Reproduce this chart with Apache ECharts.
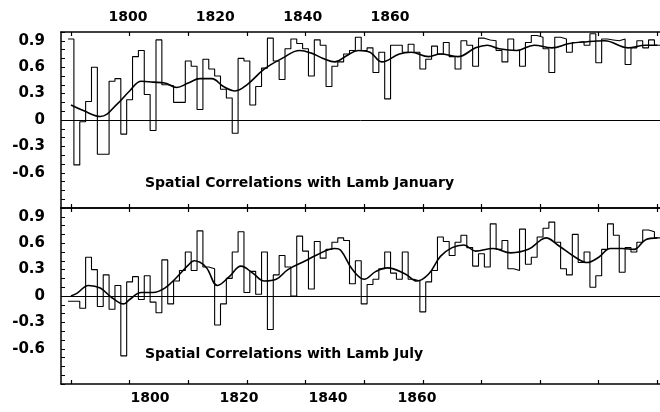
<!DOCTYPE html>
<html>
<head>
<meta charset="utf-8">
<script src="https://cdn.jsdelivr.net/npm/echarts@6/dist/echarts.min.js"></script>
<style>
html,body{margin:0;padding:0;background:#fff}
#chart{width:660px;height:412px}
</style>
</head>
<body>
<div id="chart"></div>
<script>
// yearly values start at this year, one per year
var firstYear = 1780;

var janValues = [0.92,-0.51,-0.02,0.21,0.60,-0.39,-0.39,0.44,0.47,-0.16,
  0.23,0.72,0.79,0.29,-0.12,0.91,0.40,0.39,0.20,0.20,
  0.67,0.61,0.12,0.69,0.58,0.50,0.35,0.25,-0.15,0.70,
  0.67,0.17,0.38,0.59,0.93,0.67,0.46,0.81,0.92,0.87,
  0.81,0.50,0.91,0.85,0.38,0.61,0.66,0.75,0.79,0.94,
  0.79,0.82,0.54,0.77,0.24,0.85,0.85,0.77,0.86,0.77,
  0.58,0.69,0.84,0.75,0.88,0.72,0.58,0.90,0.85,0.61,
  0.93,0.91,0.90,0.79,0.66,0.92,0.79,0.61,0.88,0.96,
  0.94,0.81,0.54,0.94,0.92,0.77,0.88,0.89,0.85,0.98,
  0.65,0.92,0.91,0.90,0.92,0.63,0.82,0.90,0.82,0.91,
  0.85];

var julValues = [-0.06,-0.06,-0.14,0.44,0.30,-0.12,0.24,-0.15,0.12,-0.68,
  0.16,0.22,-0.04,0.23,-0.07,-0.19,0.41,-0.09,0.17,0.29,
  0.50,0.29,0.74,0.33,0.31,-0.33,-0.09,0.20,0.50,0.73,
  0.04,0.28,0.02,0.50,-0.38,0.24,0.46,0.33,0.00,0.68,
  0.51,0.08,0.62,0.43,0.53,0.61,0.66,0.63,0.14,0.40,
  -0.09,0.13,0.19,0.31,0.50,0.26,0.19,0.50,0.19,0.17,
  -0.18,0.16,0.29,0.67,0.62,0.46,0.61,0.69,0.55,0.34,
  0.48,0.33,0.82,0.53,0.63,0.31,0.29,0.76,0.36,0.44,
  0.67,0.77,0.84,0.61,0.31,0.24,0.70,0.38,0.50,0.10,
  0.23,0.53,0.82,0.69,0.27,0.55,0.50,0.61,0.75,0.73,
  0.66];

// smoothed curves
var janSmoothYears = [1780,1782,1785,1788,1790,1792,1794,1796,1798,1800,1802,1804,1806,1808,1810,1813,1816,1819,1821,1823,1825,1827,1829,1831,1833,1836,1838,1841,1843,1846,1849,1851,1853,1856,1859,1862,1865,1868,1871,1875,1878,1880];
var janSmooth = [0.17,0.11,0.04,0.19,0.33,0.44,0.43,0.42,0.37,0.42,0.47,0.47,0.38,0.33,0.40,0.58,0.70,0.79,0.76,0.70,0.66,0.73,0.79,0.77,0.66,0.75,0.77,0.72,0.75,0.72,0.82,0.85,0.81,0.79,0.85,0.82,0.87,0.89,0.90,0.82,0.85,0.85];

var julSmoothYears = [1780,1781,1783,1785,1787,1789,1790,1792,1794,1796,1798,1800,1801,1803,1805,1807,1809,1811,1813,1815,1817,1820,1822,1825,1826,1828,1830,1832,1834,1837,1839,1841,1843,1845,1847,1849,1852,1855,1858,1860,1861,1863,1866,1868,1870,1872,1874,1876,1878,1880];
var julSmooth = [0.00,0.03,0.12,0.09,-0.02,-0.09,-0.04,0.04,0.04,0.09,0.21,0.35,0.40,0.33,0.12,0.22,0.34,0.26,0.17,0.19,0.30,0.40,0.47,0.54,0.52,0.30,0.19,0.28,0.32,0.25,0.17,0.25,0.45,0.55,0.58,0.51,0.54,0.49,0.53,0.63,0.66,0.58,0.44,0.38,0.44,0.54,0.54,0.53,0.64,0.66];

// axis ticks and labels
var decadeTicks = [1780,1790,1800,1810,1820,1830,1840,1850,1860,1870,1880];
var topLabels = [1800,1820,1840,1860];
var bottomLabels = [1800,1820,1840,1860];
var yLabels = [0.9,0.6,0.3,0,-0.3,-0.6];

var font = 'DejaVu Sans';
var xMin = 1778.3, xMax = 1880.45;

function steps(vals) {
  var pts = vals.map(function(v, i) { return [firstYear + i - 0.5, v]; });
  pts.push([firstYear + vals.length - 0.5, vals[vals.length - 1]]);
  return pts;
}
function pairs(xs, ys) {
  return xs.map(function(x, i) { return [x, ys[i]]; });
}

function dataAxis(grid, pos) {
  return {
    type: 'value', gridIndex: grid, position: pos, min: xMin, max: xMax,
    axisLine: {show: true, onZero: false, lineStyle: {color: '#000', width: 1.5}},
    axisTick: {show: true, inside: true, length: 4, customValues: decadeTicks, lineStyle: {color: '#000', width: 1.2}},
    axisLabel: {show: false},
    splitLine: {show: false}
  };
}
function labelAxis(grid, pos, min, max, labels, margin) {
  return {
    type: 'value', gridIndex: grid, position: pos, min: min, max: max,
    axisLine: {show: false, onZero: false}, axisTick: {show: false}, splitLine: {show: false},
    axisLabel: {show: true, customValues: labels, margin: margin, color: '#000',
      fontFamily: font, fontWeight: 'bold', fontSize: 14,
      formatter: function(v) { return String(v); }}
  };
}
function yAx(grid) {
  return {
    type: 'value', gridIndex: grid, min: -1, max: 1, interval: 0.1,
    axisLine: {show: true, onZero: false, lineStyle: {color: '#000', width: 1.5}},
    axisTick: {show: true, inside: true, length: 4, lineStyle: {color: '#000'}},
    axisLabel: {customValues: yLabels, margin: 16, color: '#000',
      fontFamily: font, fontWeight: 'bold', fontSize: 15,
      formatter: function(v) { return String(Math.round(v * 10) / 10); }},
    splitLine: {show: false}
  };
}
function zeroLine() {
  return {silent: true, symbol: 'none', label: {show: false},
    lineStyle: {color: '#000', width: 1, type: 'solid'}, data: [{yAxis: 0}]};
}

var chart = echarts.init(document.getElementById('chart'));
chart.setOption({
  animation: false,
  backgroundColor: '#fff',
  title: [
    {text: 'Spatial Correlations with Lamb January', left: 145, top: 176, padding: 0,
      textStyle: {fontFamily: font, fontWeight: 'bold', fontSize: 14, color: '#000'}},
    {text: 'Spatial Correlations with Lamb July', left: 145, top: 347, padding: 0,
      textStyle: {fontFamily: font, fontWeight: 'bold', fontSize: 14, color: '#000'}}
  ],
  grid: [
    {left: 61, top: 32, width: 599, height: 176},
    {left: 61, top: 208, width: 599, height: 176}
  ],
  xAxis: [
    dataAxis(0, 'top'),
    dataAxis(0, 'bottom'),
    labelAxis(0, 'top', 1784.66, 1921.83, topLabels, 8),
    dataAxis(1, 'bottom'),
    dataAxis(1, 'top'),
    labelAxis(1, 'bottom', 1780.0, 1914.6, bottomLabels, 7)
  ],
  yAxis: [yAx(0), yAx(1)],
  series: [
    {type: 'line', xAxisIndex: 0, yAxisIndex: 0, step: 'end', data: steps(janValues),
      showSymbol: false, lineStyle: {color: '#000', width: 1.1}, markLine: zeroLine()},
    {type: 'line', xAxisIndex: 0, yAxisIndex: 0, smooth: 0.4, data: pairs(janSmoothYears, janSmooth),
      showSymbol: false, lineStyle: {color: '#000', width: 1.6}},
    {type: 'line', xAxisIndex: 3, yAxisIndex: 1, step: 'end', data: steps(julValues),
      showSymbol: false, lineStyle: {color: '#000', width: 1.1}, markLine: zeroLine()},
    {type: 'line', xAxisIndex: 3, yAxisIndex: 1, smooth: 0.4, data: pairs(julSmoothYears, julSmooth),
      showSymbol: false, lineStyle: {color: '#000', width: 1.6}}
  ]
});
</script>
</body>
</html>
